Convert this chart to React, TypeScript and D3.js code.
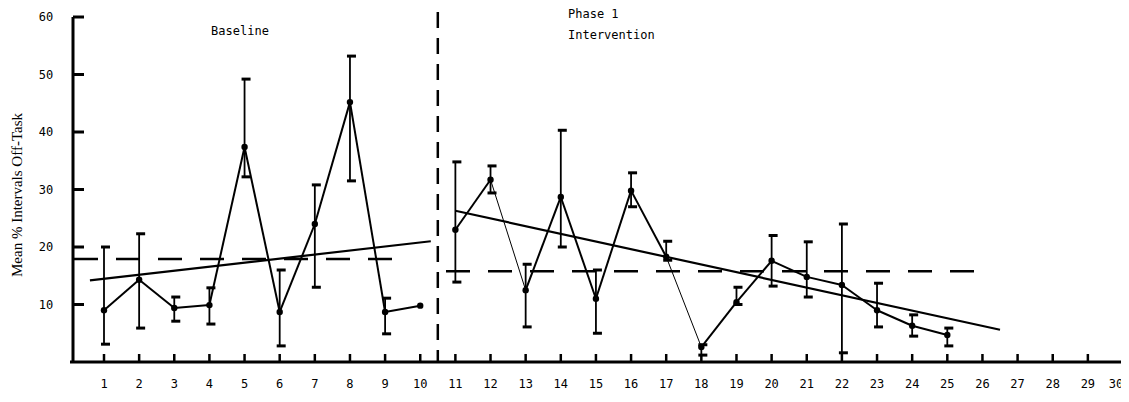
import { useEffect, useRef } from "react";
import * as d3 from "d3";

// sessions and mean % intervals
const baselineSessions = [1, 2, 3, 4, 5, 6, 7, 8, 9, 10];
const baselineMeans = [9.0, 14.3, 9.4, 9.9, 37.4, 8.7, 24.0, 45.2, 8.7, 9.8];
const baselineHigh = [20.0, 22.3, 11.3, 12.9, 49.2, 16.0, 30.8, 53.2, 11.1, null];
const baselineLow = [3.1, 5.9, 7.1, 6.6, 32.2, 2.8, 13.0, 31.5, 4.9, null];

const interventionSessions = [11, 12, 13, 14, 15, 16, 17, 18, 19, 20, 21, 22, 23, 24, 25];
const interventionMeans = [23.0, 31.7, 12.5, 28.7, 11.0, 29.8, 18.3, 2.6, 10.4, 17.6, 14.8, 13.4, 9.0, 6.3, 4.7];
const interventionHigh = [34.8, 34.1, 17.0, 40.3, 16.0, 32.9, 21.0, 3.0, 13.0, 22.0, 20.9, 24.0, 13.7, 8.2, 5.9];
const interventionLow = [13.9, 29.4, 6.1, 20.0, 5.0, 27.0, 17.7, 1.2, 10.0, 13.2, 11.3, 1.6, 6.1, 4.5, 2.8];

// mean levels and trend lines per phase
const baselineMeanLevel = 17.9;
const interventionMeanLevel = 15.8;
const baselineTrend: [number, number][] = [[0.6, 14.2], [10.3, 21.0]];
const interventionTrend: [number, number][] = [[11, 26.3], [26.5, 5.6]];

// segments drawn with a thin pen in the original
const thinSegments = [12, 17];

const xTicks = d3.range(1, 31);
const yTicks = [10, 20, 30, 40, 50, 60];

export default function App() {
  const svgRef = useRef<SVGSVGElement>(null);

  useEffect(() => {
    if (!svgRef.current) return;
    const svg = d3.select(svgRef.current);
    svg.selectAll("*").remove();

    const x = d3.scaleLinear().domain([1, 30]).range([104, 1123]);
    const y = d3.scaleLinear().domain([0, 60]).range([362, 17]);
    const font = "'DejaVu Sans Mono', monospace";

    // axes
    svg.append("line").attr("x1", 73).attr("x2", 73).attr("y1", y(60)).attr("y2", 363)
      .attr("stroke", "#000").attr("stroke-width", 3);
    svg.append("line").attr("x1", 70).attr("x2", 1129).attr("y1", 362).attr("y2", 362)
      .attr("stroke", "#000").attr("stroke-width", 3);

    svg.selectAll("line.ytick").data(yTicks).enter().append("line")
      .attr("x1", 73).attr("x2", 84)
      .attr("y1", (d) => y(d)).attr("y2", (d) => y(d))
      .attr("stroke", "#000").attr("stroke-width", 3);
    svg.selectAll("text.ylab").data(yTicks).enter().append("text")
      .attr("x", 46).attr("y", (d) => y(d) + 4)
      .attr("text-anchor", "middle")
      .style("font-family", font).style("font-size", "12px")
      .text((d) => String(d));

    svg.selectAll("line.xtick").data(xTicks).enter().append("line")
      .attr("x1", (d) => x(d)).attr("x2", (d) => x(d))
      .attr("y1", 354).attr("y2", 362)
      .attr("stroke", "#000").attr("stroke-width", 2.5);
    svg.selectAll("text.xlab").data(xTicks).enter().append("text")
      .attr("x", (d) => Math.min(x(d), 1116)).attr("y", 388)
      .attr("text-anchor", "middle")
      .style("font-family", font).style("font-size", "12px")
      .text((d) => String(d));

    svg.append("text")
      .attr("transform", `translate(22,195) rotate(-90)`)
      .attr("text-anchor", "middle")
      .style("font-family", "'Liberation Serif', serif").style("font-size", "15px")
      .text("Mean % Intervals Off-Task");

    // phase divider
    svg.append("line").attr("x1", x(10.5)).attr("x2", x(10.5)).attr("y1", 12).attr("y2", 362)
      .attr("stroke", "#000").attr("stroke-width", 2.5).attr("stroke-dasharray", "16,10");

    // phase labels
    svg.append("text").attr("x", 240).attr("y", 35).attr("text-anchor", "middle")
      .style("font-family", font).style("font-size", "12px").text("Baseline");
    svg.append("text").attr("x", 568).attr("y", 18)
      .style("font-family", font).style("font-size", "12px").text("Phase 1");
    svg.append("text").attr("x", 568).attr("y", 39)
      .style("font-family", font).style("font-size", "12px").text("Intervention");

    // mean level dashed lines
    svg.append("line").attr("x1", 74).attr("x2", 405)
      .attr("y1", y(baselineMeanLevel)).attr("y2", y(baselineMeanLevel))
      .attr("stroke", "#000").attr("stroke-width", 2.5).attr("stroke-dasharray", "24,18");
    svg.append("line").attr("x1", 446).attr("x2", 982)
      .attr("y1", y(interventionMeanLevel)).attr("y2", y(interventionMeanLevel))
      .attr("stroke", "#000").attr("stroke-width", 2.5).attr("stroke-dasharray", "24,18");

    // trend lines
    const line = d3.line<[number, number]>().x((d) => x(d[0])).y((d) => y(d[1]));
    [baselineTrend, interventionTrend].forEach((t) => {
      svg.append("path").attr("d", line(t)).attr("fill", "none")
        .attr("stroke", "#000").attr("stroke-width", 2.2);
    });

    const drawPhase = (
      sessions: number[],
      means: number[],
      high: (number | null)[],
      low: (number | null)[]
    ) => {
      // error bars
      sessions.forEach((s, i) => {
        const h = high[i];
        const l = low[i];
        if (h == null || l == null) return;
        const g = svg.append("g");
        g.append("line").attr("x1", x(s)).attr("x2", x(s)).attr("y1", y(h)).attr("y2", y(l))
          .attr("stroke", "#000").attr("stroke-width", 1.8);
        [h, l].forEach((v) => {
          g.append("line").attr("x1", x(s) - 3).attr("x2", x(s) + 6)
            .attr("y1", y(v)).attr("y2", y(v))
            .attr("stroke", "#000").attr("stroke-width", 3);
        });
      });
      // connecting line
      for (let i = 0; i < sessions.length - 1; i++) {
        svg.append("line")
          .attr("x1", x(sessions[i])).attr("y1", y(means[i]))
          .attr("x2", x(sessions[i + 1])).attr("y2", y(means[i + 1]))
          .attr("stroke", "#000")
          .attr("stroke-width", thinSegments.includes(sessions[i]) ? 1 : 2);
      }
      svg.selectAll(null).data(sessions).enter().append("circle")
        .attr("cx", (s) => x(s)).attr("cy", (_, i) => y(means[i]))
        .attr("r", 3.2).attr("fill", "#000");
    };

    drawPhase(baselineSessions, baselineMeans, baselineHigh, baselineLow);
    drawPhase(interventionSessions, interventionMeans, interventionHigh, interventionLow);
  }, []);

  return (
    <div style={{ margin: -8 }}>
      <svg ref={svgRef} width={1129} height={402} style={{ display: "block", background: "#fff" }} />
    </div>
  );
}
